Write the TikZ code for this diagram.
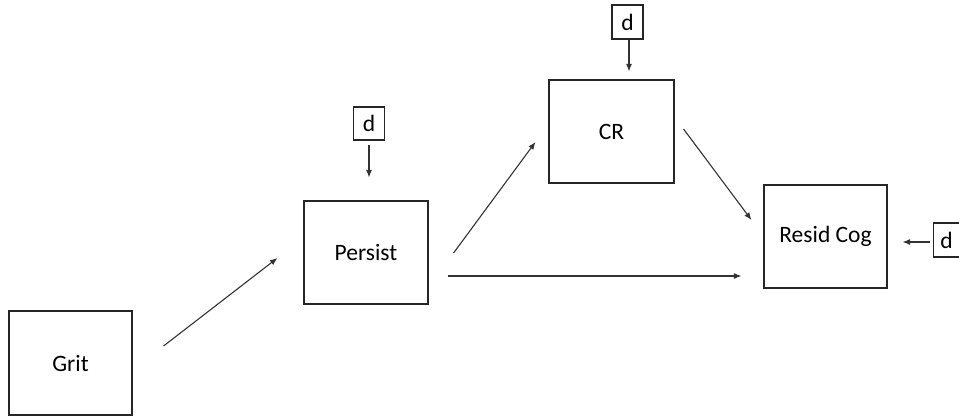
\documentclass[tikz,border=0pt]{standalone}
\usepackage{fontspec}
\setmainfont{Carlito}
\usetikzlibrary{arrows.meta,calc}
\begin{document}
\begin{tikzpicture}[x=1pt,y=-1pt,
  box/.style={draw=black!85,line width=1.1pt,inner sep=0pt,font=\fontsize{23.5}{26}\selectfont},
  dbox/.style={draw=black!85,line width=1.1pt,inner sep=0pt,font=\fontsize{23.5}{26}\selectfont},
  arr/.style={draw=black!80,line width=1.1pt,-{Latex[length=7.5pt,width=6pt]}}]
\useasboundingbox (0,0) rectangle (959,416);
\node[box,minimum width=123pt,minimum height=104pt] (grit) at (70.5,363) {Grit};
\node[box,minimum width=124pt,minimum height=103pt] (persist) at (366,252.5) {Persist};
\node[box,minimum width=125pt,minimum height=103pt] (cr) at (611.5,131.5) {CR};
\node[box,minimum width=123pt,minimum height=103pt] (resid) at (825.5,236.5) {Resid Cog};
\node[dbox,minimum width=31pt,minimum height=33pt] (d1) at (369,123.5) {d};
\node[dbox,minimum width=31pt,minimum height=34pt] (d2) at (627.5,22) {d};
\node[dbox,minimum width=26pt,minimum height=34pt,anchor=west] (d3) at (933,240) {d};
\draw[arr] ($(grit.east)+(31,-17)$) -- ($(persist.west)+(-26,5.5)$);
\draw[arr] ($(persist.east)+(25,0.5)$) -- ($(cr.west)+(-13,10.5)$);
\draw[arr] ($(persist.east)+(19,23.5)$) -- ($(resid.west)+(-22,39.5)$);
\draw[arr] ($(cr.east)+(9,-2.5)$) -- ($(resid.west)+(-12,-16.5)$);
\draw[arr] ($(d1.south)+(0,4)$) -- ($(persist.north)+(3,-23)$);
\draw[arr] ($(d2.south)+(1.5,0)$) -- ($(cr.north)+(17.5,-8)$);
\draw[arr] ($(d3.west)+(-3,2)$) -- ($(resid.east)+(15,5.5)$);
\end{tikzpicture}
\end{document}
